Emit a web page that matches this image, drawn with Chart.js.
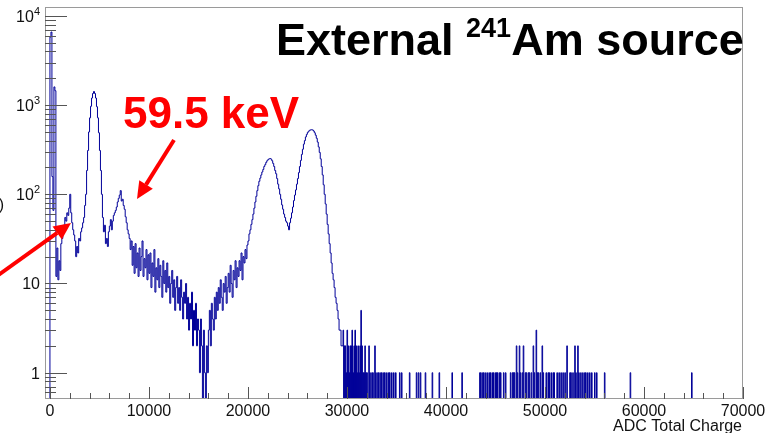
<!DOCTYPE html>
<html>
<head>
<meta charset="utf-8">
<script src="https://cdn.jsdelivr.net/npm/chart.js@4.4.0/dist/chart.umd.min.js"></script>
<style>
  html, body { margin: 0; padding: 0; background: #fff; }
  canvas { display: block; }
</style>
</head>
<body>
<canvas id="spectrum" width="768" height="433"></canvas>
<script>
// main part of the histogram: 100 ADC wide bins starting at 0 (one row = 1000 ADC)
var binStart = 0;
var binWidth = 100;
var binCounts = [
    5800, 6600, 158, 66, 1600, 1450, 12, 25, 11, 18,
    14, 28, 32, 45, 40, 55, 50, 62, 58, 70,
    100, 62, 48, 40, 35, 30, 20, 26, 22, 32,
    30, 38, 42, 48, 55, 75, 100, 185, 310, 500,
    720, 970, 1200, 1350, 1420, 1350, 1200, 960, 720, 490,
    310, 185, 100, 55, 38, 45, 28, 32, 26, 38,
    44, 52, 40, 50, 58, 62, 66, 72, 82, 90,
    98, 110, 84, 88, 75, 68, 56, 48, 40, 36,
    32, 24, 30, 16, 26, 13, 28, 15, 22, 12,
    25, 14, 20, 30, 12, 19, 15, 24, 11, 21,
    13, 22, 9, 17, 12, 24, 8, 15, 11, 19,
    9, 16, 12, 7, 18, 10, 14, 8, 17, 9,
    12, 6, 10, 14, 7, 11, 5, 9, 12, 6,
    9, 5, 11, 7, 4, 8, 6, 10, 4, 7,
    3, 6, 4, 8, 2, 5, 3, 6, 2, 4,
    3, 1, 4, 2, 0, 3, 1, 0, 2, 1,
    3, 5, 2, 6, 4, 3, 7, 4, 8, 5,
    9, 6, 11, 7, 5, 10, 8, 12, 6, 9,
    13, 8, 16, 10, 7, 14, 11, 18, 9, 15,
    12, 18, 14, 22, 11, 20, 17, 24, 19, 27,
    30, 36, 40, 46, 52, 60, 70, 82, 95, 110,
    125, 140, 152, 165, 178, 190, 205, 215, 228, 238,
    245, 250, 252, 248, 238, 222, 205, 185, 170, 150,
    130, 115, 100, 88, 76, 68, 60, 55, 50, 48,
    44, 40, 48, 54, 62, 72, 85, 98, 112, 130,
    150, 175, 205, 240, 280, 320, 365, 400, 440, 470,
    495, 510, 522, 528, 530, 526, 512, 490, 460, 425,
    385, 340, 295, 250, 205, 165, 128, 100, 78, 60,
    46, 36, 28, 22, 17, 13, 11, 9, 7, 6,
    5, 4, 3, 3, 2, 2
];

// sparse tail: position of the bins with entries, and their counts
var tailWidth = 60;
var tailBins = [
    29600, 29700, 29800, 29900, 30000, 30100, 30200, 30300, 30400, 30500,
    30600, 30700, 30800, 30900, 31000, 31100, 31200, 31300, 31400, 31500,
    31600, 31700, 31800, 31900, 32000, 32200, 32300, 32500, 32600, 32800,
    32900, 33100, 33200, 33400, 33500, 33700, 33800, 34000, 34200, 34300,
    34500, 34700, 34900, 35300, 35500, 36300, 37000, 37200, 37400, 37900,
    38600, 39300, 40600, 41600, 43400, 43500, 43700, 43800, 44000, 44200,
    44400, 44500, 44700, 44800, 45000, 45100, 45200, 45400, 45500, 45800,
    46000, 46500, 46700, 46800, 46900, 47100, 47200, 47400, 47500, 47700,
    47800, 48000, 48100, 48300, 48400, 48600, 48800, 48900, 49100, 49200,
    49300, 49500, 49700, 49800, 50100, 50300, 50400, 50600, 50800, 50900,
    51200, 51400, 51600, 51800, 52000, 52200, 52500, 52600, 52800, 53000,
    53100, 53300, 53400, 53600, 53800, 54000, 54100, 54300, 54500, 54700,
    55000, 55200, 56000, 58600, 64800
];
var tailCounts = [
    3, 2, 2, 1, 3, 2, 1, 2, 2, 3,
    1, 2, 3, 2, 1, 2, 1, 2, 5, 2,
    1, 1, 2, 1, 1, 2, 1, 1, 1, 2,
    1, 1, 1, 1, 1, 1, 1, 1, 1, 1,
    1, 1, 1, 1, 1, 1, 1, 1, 1, 1,
    1, 1, 1, 1, 1, 1, 1, 1, 1, 1,
    1, 1, 1, 1, 1, 1, 1, 1, 1, 1,
    1, 1, 1, 1, 1, 2, 1, 2, 1, 1,
    2, 1, 1, 1, 1, 1, 2, 1, 3, 1,
    1, 1, 2, 1, 1, 1, 1, 1, 1, 1,
    1, 1, 1, 1, 1, 2, 1, 1, 1, 2,
    1, 2, 1, 1, 1, 1, 1, 1, 1, 1,
    1, 1, 1, 1, 1
];

var xTicks = [0, 10000, 20000, 30000, 40000, 50000, 60000, 70000];
var yDecades = [1, 10, 100, 1000, 10000];
var yLabels = ['1', '10', '10^2', '10^3', '10^4'];

var FONT = '"Liberation Sans", Arial, sans-serif';
var ZERO = 0.05; // empty bins: below the frame, gets clipped

function buildPoints() {
    var pts = [{ x: binStart - binWidth, y: ZERO }];
    for (var i = 0; i < binCounts.length; i++) {
        pts.push({ x: binStart + i * binWidth, y: binCounts[i] > 0 ? binCounts[i] : ZERO });
    }
    var end = binStart + binCounts.length * binWidth;
    for (var j = 0; j < tailBins.length; j++) {
        if (tailBins[j] > end) {
            pts.push({ x: end, y: ZERO });
        }
        pts.push({ x: tailBins[j], y: tailCounts[j] });
        end = tailBins[j] + tailWidth;
    }
    pts.push({ x: end, y: ZERO });
    return pts;
}

function seg(ctx, x0, y0, x1, y1) {
    ctx.beginPath();
    ctx.moveTo(x0, y0);
    ctx.lineTo(x1, y1);
    ctx.stroke();
}

function arrow(ctx, x0, y0, x1, y1, head, width) {
    var ang = Math.atan2(y1 - y0, x1 - x0);
    var bx = x1 - head * Math.cos(ang), by = y1 - head * Math.sin(ang);
    seg(ctx, x0, y0, bx, by);
    ctx.beginPath();
    ctx.moveTo(x1, y1);
    ctx.lineTo(bx + width / 2 * Math.sin(ang), by - width / 2 * Math.cos(ang));
    ctx.lineTo(bx - width / 2 * Math.sin(ang), by + width / 2 * Math.cos(ang));
    ctx.closePath();
    ctx.fill();
}

// ROOT like frame: box, ticks inside, labels, plus the slide annotations
var rootFrame = {
    id: 'rootFrame',
    afterDatasetsDraw: function (chart) {
        var ctx = chart.ctx, a = chart.chartArea;
        var xs = chart.scales.x, ys = chart.scales.y;
        ctx.save();
        ctx.lineWidth = 1;
        ctx.strokeStyle = '#9a9a9a';
        ctx.strokeRect(a.left + 0.5, a.top + 0.5, a.right - a.left - 1, a.bottom - a.top - 1);

        ctx.strokeStyle = '#555';
        for (var v = 0; v <= 70000; v += 2000) {
            var px = Math.round(xs.getPixelForValue(v)) + 0.5;
            seg(ctx, px, a.bottom, px, a.bottom - (v % 10000 === 0 ? 12 : 6));
        }
        for (var d = 0.1; d <= 10000; d *= 10) {
            for (var m = 1; m <= 9; m++) {
                var val = m * d;
                if (val < ys.min || val > ys.max) continue;
                var py = Math.round(ys.getPixelForValue(val)) + 0.5;
                seg(ctx, a.left, py, a.left + (m === 1 ? 22 : 11), py);
            }
        }

        ctx.fillStyle = '#111';
        ctx.textBaseline = 'alphabetic';
        ctx.font = '16px ' + FONT;
        ctx.textAlign = 'center';
        xTicks.forEach(function (t) {
            ctx.fillText(String(t), xs.getPixelForValue(t), 416);
        });
        ctx.textAlign = 'right';
        ctx.fillText('ADC Total Charge', 742, 431);
        ctx.fillText(')', 4, 210);

        ctx.textAlign = 'left';
        yDecades.forEach(function (dv, k) {
            var y = ys.getPixelForValue(dv);
            var parts = yLabels[k].split('^');
            ctx.font = '11px ' + FONT;
            var w1 = parts[1] ? ctx.measureText(parts[1]).width : 0;
            ctx.font = '16px ' + FONT;
            var w0 = ctx.measureText(parts[0]).width;
            ctx.fillText(parts[0], 40 - w1 - w0, y + 6);
            if (parts[1]) {
                ctx.font = '11px ' + FONT;
                ctx.fillText(parts[1], 40 - w1, y - 1);
            }
        });

        // title
        ctx.fillStyle = '#000';
        var x = 276;
        ctx.font = 'bold 45px ' + FONT;
        ctx.fillText('External ', x, 55);
        x += ctx.measureText('External ').width;
        ctx.font = 'bold 27px ' + FONT;
        ctx.fillText('241', x, 37);
        x += ctx.measureText('241').width;
        ctx.font = 'bold 45px ' + FONT;
        ctx.fillText('Am source', x, 55);

        // red annotations
        ctx.fillStyle = '#ff0000';
        ctx.strokeStyle = '#ff0000';
        ctx.font = 'bold 44px ' + FONT;
        ctx.fillText('59.5 keV', 123, 128);
        ctx.lineWidth = 4;
        arrow(ctx, 174, 140, 137, 199, 17, 16);
        arrow(ctx, -3, 276, 71, 223, 17, 16);
        ctx.restore();
    }
};

var chart = new Chart(document.getElementById('spectrum'), {
    type: 'line',
    data: {
        datasets: [{
            label: 'ADC Total Charge',
            data: buildPoints(),
            stepped: true,
            borderColor: '#000099',
            borderWidth: 1,
            pointRadius: 0,
            fill: false,
            tension: 0
        }]
    },
    options: {
        responsive: false,
        animation: false,
        layout: { padding: { left: 45, right: 25, top: 7, bottom: 34 } },
        plugins: { legend: { display: false }, tooltip: { enabled: false } },
        scales: {
            x: { type: 'linear', min: -500, max: 70000, display: false },
            y: { type: 'logarithmic', min: 0.507, max: 12590, display: false }
        }
    },
    plugins: [rootFrame]
});
</script>
</body>
</html>
